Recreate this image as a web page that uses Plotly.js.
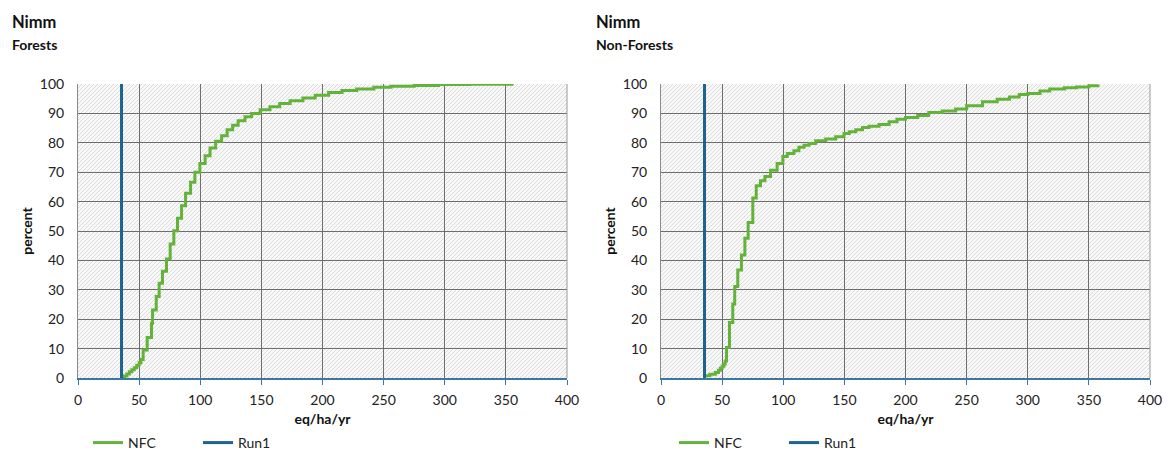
<!DOCTYPE html>
<html><head><meta charset="utf-8">
<script src="https://cdn.plot.ly/plotly-3.0.1.min.js"></script>
<style>html,body{margin:0;padding:0;background:#fff}#chart{width:1168px;height:452px}</style>
</head><body><div id="chart"></div>
<script>
// ---- data ----
const forestNfcX = [36.3, 38, 40, 42, 44, 46, 48, 50, 51.5, 53.3, 56.6, 60.1, 61, 64, 66.4, 69.1, 72.4, 75.4, 78.4, 81.4, 84.7, 88, 92.1, 95.6, 99.7, 104, 108, 112.6, 117.5, 122, 126.5, 131, 136.6, 142, 149, 157, 165, 173.5, 184, 194, 205, 216, 228, 242, 256, 275, 295, 320, 355];
const forestNfcY = [0, 0.7, 1.4, 2.1, 2.8, 3.5, 4.3, 5.2, 6.3, 9.5, 13.8, 18.6, 23.1, 27.7, 32.2, 36.3, 40.5, 45.6, 50.1, 54.3, 58.6, 62.8, 66.6, 70, 73, 75.6, 78.2, 80.5, 82.4, 84.4, 86, 87.5, 88.9, 90, 91.2, 92.3, 93.4, 94.3, 95.2, 96.2, 97.1, 97.8, 98.3, 98.9, 99.2, 99.5, 99.8, 99.9, 100];
const nonForestNfcX = [36.3, 40, 44.5, 47, 48.6, 50, 51.4, 52.5, 53.6, 56, 58.7, 60.3, 62.8, 65.8, 68.6, 71.3, 75.1, 77.9, 81.4, 85, 89.6, 95, 99.7, 103.3, 108.7, 112.8, 117, 121, 126.5, 134.7, 142.9, 149.7, 154, 159.3, 164.8, 170.2, 178.4, 186.6, 193, 200, 210, 219, 230, 241, 250, 263, 275, 285, 293, 300, 310, 318, 330, 340, 350, 357.5];
const nonForestNfcY = [0.8, 1.3, 1.9, 2.6, 3.3, 4, 4.8, 5.8, 10.4, 18.9, 25.2, 31.1, 36.7, 41.8, 47.5, 52.9, 61.2, 65.4, 67.1, 68.5, 70.7, 73, 75.3, 76.4, 77.3, 78.5, 79.2, 79.8, 80.7, 81.3, 82.1, 83.2, 83.8, 84.4, 85.2, 85.6, 86.2, 87.2, 88, 88.6, 89.3, 90.3, 90.8, 91.5, 92.6, 94, 94.8, 95.6, 96.4, 96.8, 97.6, 98.3, 98.7, 99, 99.4, 99.8];
const run1X = [35.6, 35.6];
const run1Y = [0, 100];
const panelTitles = ['Nimm', 'Nimm'];
const panelSubtitles = ['Forests', 'Non-Forests'];
const xTicks = [0, 50, 100, 150, 200, 250, 300, 350, 400];
const yTicks = [0, 10, 20, 30, 40, 50, 60, 70, 80, 90, 100];
const seriesNames = ['NFC', 'Run1'];

// ---- style ----
const GREEN = '#63B23A', BLUE = '#1C638F';
const FONT = 'Lato, "Open Sans", sans-serif';
const W = 1168, H = 452;
const plotTop = 84, plotBottom = 378;
const dom1 = [78 / W, 567 / W], dom2 = [661 / W, 1150 / W];

function hatch(w, h) {
  const c = document.createElement('canvas');
  c.width = w; c.height = h;
  const g = c.getContext('2d');
  g.fillStyle = '#f8f8f8'; g.fillRect(0, 0, w, h);
  g.strokeStyle = '#dcdcdc'; g.lineWidth = 1;
  g.beginPath();
  for (let k = -h; k < w + h; k += 4) { g.moveTo(k, h); g.lineTo(k + h, 0); }
  g.stroke();
  return c.toDataURL('image/png');
}
const hatchSrc = hatch(489, plotBottom - plotTop);

function xAxis(domain, anchor) {
  return {
    domain: domain, anchor: anchor, range: [0, 400], tickvals: xTicks, ticktext: xTicks.map(String),
    showgrid: true, gridcolor: '#6e6e6e', gridwidth: 1, zeroline: false,
    showline: true, linecolor: '#3d77a3', linewidth: 1.5, ticks: 'outside', ticklen: 5, tickcolor: '#3d77a3',
    tickfont: {family: FONT, size: 14, color: '#222'}, ticklabelstandoff: 4,
    title: {text: '<b>eq/ha/yr</b>', font: {family: FONT, size: 14, color: '#111'}, standoff: 16},
    automargin: false, fixedrange: true
  };
}
function yAxis(anchor) {
  return {
    domain: [0, 1], anchor: anchor, range: [0, 100], tickvals: yTicks, ticktext: yTicks.map(String),
    showgrid: true, gridcolor: '#6e6e6e', gridwidth: 1, zeroline: false,
    showline: true, linecolor: '#8a8a8a', linewidth: 1, mirror: false, ticks: '',
    tickfont: {family: FONT, size: 14, color: '#222'}, ticklabelstandoff: 10,
    title: {text: '<b>percent</b>', font: {family: FONT, size: 14, color: '#111'}, standoff: 3},
    automargin: false, fixedrange: true
  };
}

const traces = [
  {x: forestNfcX, y: forestNfcY, name: seriesNames[0], type: 'scatter', mode: 'lines',
   line: {color: GREEN, width: 3, shape: 'hv'}, xaxis: 'x', yaxis: 'y', legend: 'legend'},
  {x: run1X, y: run1Y, name: seriesNames[1], type: 'scatter', mode: 'lines',
   line: {color: BLUE, width: 3}, xaxis: 'x', yaxis: 'y', legend: 'legend'},
  {x: nonForestNfcX, y: nonForestNfcY, name: seriesNames[0], type: 'scatter', mode: 'lines',
   line: {color: GREEN, width: 3, shape: 'hv'}, xaxis: 'x2', yaxis: 'y2', legend: 'legend2'},
  {x: run1X, y: run1Y, name: seriesNames[1], type: 'scatter', mode: 'lines',
   line: {color: BLUE, width: 3}, xaxis: 'x2', yaxis: 'y2', legend: 'legend2'}
];

const legendBase = {orientation: 'h', xanchor: 'left', yanchor: 'top', yref: 'container', y: 1 - 427 / H,
  font: {family: FONT, size: 14, color: '#222'}, bgcolor: 'rgba(0,0,0,0)', borderwidth: 0,
  entrywidth: 65, itemclick: false, itemdoubleclick: false};

const layout = {
  width: W, height: H, autosize: false,
  margin: {l: 0, r: 0, t: plotTop, b: H - plotBottom, pad: 0},
  paper_bgcolor: '#fff', plot_bgcolor: '#f8f8f8',
  showlegend: true,
  xaxis: xAxis(dom1, 'y'), yaxis: yAxis('x'),
  xaxis2: xAxis(dom2, 'y2'), yaxis2: yAxis('x2'),
  legend: Object.assign({}, legendBase, {x: 88 / W}),
  legend2: Object.assign({}, legendBase, {x: 674 / W}),
  images: [
    {source: hatchSrc, xref: 'x domain', yref: 'y domain', x: 0, y: 1, sizex: 1, sizey: 1,
     xanchor: 'left', yanchor: 'top', sizing: 'stretch', layer: 'below'},
    {source: hatchSrc, xref: 'x2 domain', yref: 'y2 domain', x: 0, y: 1, sizex: 1, sizey: 1,
     xanchor: 'left', yanchor: 'top', sizing: 'stretch', layer: 'below'}
  ],
  shapes: [
    {type: 'line', xref: 'x domain', yref: 'y domain', x0: 1, x1: 1, y0: 0, y1: 1, line: {color: '#9a9a9a', width: 1}},
    {type: 'line', xref: 'x2 domain', yref: 'y2 domain', x0: 1, x1: 1, y0: 0, y1: 1, line: {color: '#9a9a9a', width: 1}}
  ],
  annotations: [
    {text: '<b>' + panelTitles[0] + '</b>', xref: 'paper', yref: 'paper', x: 10 / W, y: 1 + (plotTop - 22) / 294, xanchor: 'left', yanchor: 'middle', showarrow: false, font: {family: FONT, size: 16.5, color: '#111'}},
    {text: '<b>' + panelSubtitles[0] + '</b>', xref: 'paper', yref: 'paper', x: 10 / W, y: 1 + (plotTop - 45) / 294, xanchor: 'left', yanchor: 'middle', showarrow: false, font: {family: FONT, size: 14, color: '#111'}},
    {text: '<b>' + panelTitles[1] + '</b>', xref: 'paper', yref: 'paper', x: 594 / W, y: 1 + (plotTop - 22) / 294, xanchor: 'left', yanchor: 'middle', showarrow: false, font: {family: FONT, size: 16.5, color: '#111'}},
    {text: '<b>' + panelSubtitles[1] + '</b>', xref: 'paper', yref: 'paper', x: 594 / W, y: 1 + (plotTop - 45) / 294, xanchor: 'left', yanchor: 'middle', showarrow: false, font: {family: FONT, size: 14, color: '#111'}}
  ]
};

Plotly.newPlot('chart', traces, layout, {displayModeBar: false, staticPlot: true});
</script>
</body></html>
